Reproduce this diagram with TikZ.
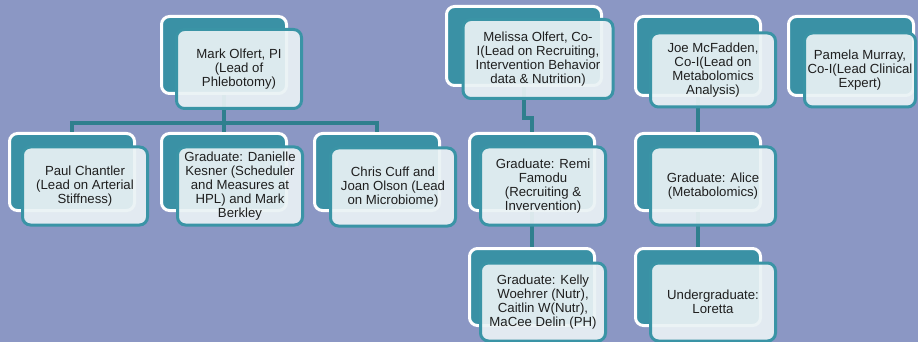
\documentclass[tikz,border=0pt]{standalone}
\usepackage{fontspec}
\setmainfont{Liberation Sans}
\definecolor{Slate}{RGB}{139,151,196}
\definecolor{TealBack}{RGB}{58,145,165}
\definecolor{TealEdge}{RGB}{58,148,166}
\definecolor{TealLink}{RGB}{47,127,142}
\definecolor{CardFill}{RGB}{234,242,245}
\usepackage{tikz}
\usetikzlibrary{positioning,calc}

\begin{document}
\begin{tikzpicture}[x=1pt,y=-1pt,
  cardback/.style={draw=white,fill=TealBack,line width=3pt,rounded corners=8pt,minimum width=125pt,minimum height=77pt},
  cardfront/.style={draw=TealEdge,fill=CardFill,fill opacity=0.92,text opacity=1,line width=3pt,rounded corners=8pt,minimum width=125pt,minimum height=78pt,align=center,inner sep=0pt,font=\fontsize{13.2}{14}\selectfont,text=black!88},
  link/.style={draw=TealLink,line width=4pt}]
  \useasboundingbox[fill=Slate] (0,0) rectangle (918,342);
  % back cards
  \node[cardback] (markb) at (224,55) {};
  \node[cardback,minimum width=155pt,minimum height=79pt] (melb) at (524,46) {};
  \node[cardback,minimum height=79pt] (joeb) at (698,56) {};
  \node[cardback,minimum height=79pt] (pamb) at (851,56) {};
  \node[cardback] (paulb) at (72,172) {};
  \node[cardback] (danb) at (224,172) {};
  \node[cardback] (chrisb) at (377,172) {};
  \node[cardback] (remib) at (532,172) {};
  \node[cardback] (kellyb) at (532,287) {};
  \node[cardback] (aliceb) at (698,172) {};
  \node[cardback] (lorb) at (698,287) {};
  % links
  \coordinate (bus) at (224,123);
  \draw[link] (markb.south) -- (bus);
  \draw[link] (paulb.north) |- (bus) -| (chrisb.north);
  \draw[link] (bus) -- (danb.north);
  \draw[link] (melb.south) -- ++(0,31) -| (remib.north);
  \draw[link] (remib.south) -- (kellyb.north);
  \draw[link] (joeb.south) -- (aliceb.north);
  \draw[link] (aliceb.south) -- (lorb.north);
  % front cards
  \node[cardfront,xshift=15pt,yshift=-14pt,minimum height=79pt] (mark) at (markb) {Mark Olfert, PI\\(Lead of\\Phlebotomy)};
  \node[cardfront,xshift=14pt,yshift=-13pt,minimum width=150pt,minimum height=79pt] (mel) at (melb) {Melissa Olfert, Co-\\I(Lead on Recruiting,\\Intervention Behavior\\data \& Nutrition)};
  \node[cardfront,xshift=15pt,yshift=-14pt,minimum height=74pt] (joe) at (joeb) {Joe McFadden,\\Co-I(Lead on\\Metabolomics\\Analysis)};
  \node[cardfront,xshift=9pt,yshift=-14pt,minimum width=111pt,minimum height=74pt] (pam) at (pamb) {Pamela Murray,\\Co-I(Lead Clinical\\Expert)};
  \node[cardfront,xshift=13pt,yshift=-14pt] (paul) at (paulb) {Paul Chantler\\(Lead on Arterial\\Stiffness)};
  \node[cardfront,xshift=16pt,yshift=-14pt] (dan) at (danb) {Graduate: Danielle\\Kesner (Scheduler\\and Measures at\\HPL) and Mark\\Berkley};
  \node[cardfront,xshift=16pt,yshift=-15pt] (chris) at (chrisb) {Chris Cuff and\\Joan Olson (Lead\\on Microbiome)};
  \node[cardfront,xshift=11pt,yshift=-14pt] (remi) at (remib) {Graduate: Remi\\Famodu\\(Recruiting \&\\Invervention)};
  \node[cardfront,xshift=11pt,yshift=-15pt] (kelly) at (kellyb) {Graduate: Kelly\\Woehrer (Nutr),\\Caitlin W(Nutr),\\MaCee Delin (PH)};
  \node[cardfront,xshift=15pt,yshift=-14pt] (alice) at (aliceb) {Graduate: Alice\\(Metabolomics)};
  \node[cardfront,xshift=15pt,yshift=-15pt] (lor) at (lorb) {Undergraduate:\\Loretta};
\end{tikzpicture}
\end{document}
